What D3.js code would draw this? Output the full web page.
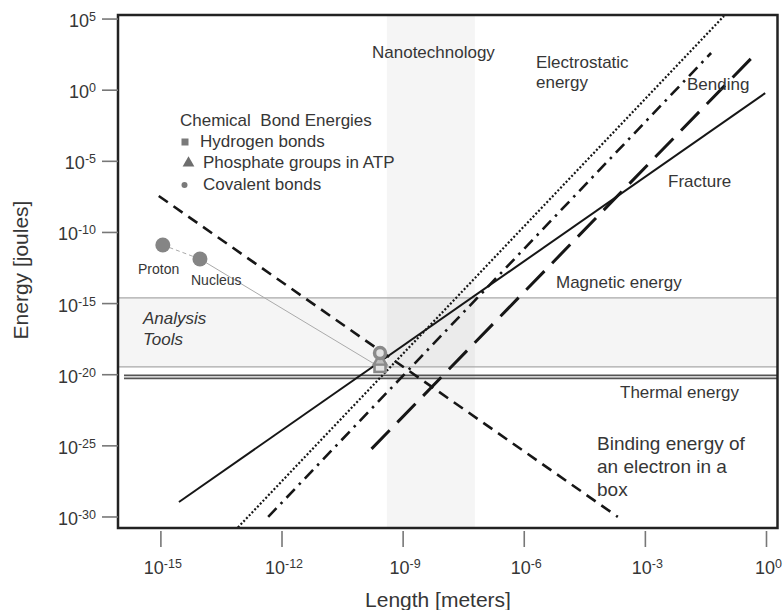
<!DOCTYPE html>
<html>
<head>
<meta charset="utf-8">
<script src="https://cdn.jsdelivr.net/npm/d3@7/dist/d3.min.js"></script>
<style>
  html, body { margin: 0; padding: 0; background: #fff; }
  svg { display: block; font-family: "Liberation Sans", Arial, sans-serif; }
</style>
</head>
<body>
<svg id="chart" width="783" height="610"></svg>
<script>
// ---- data (values given as powers of ten) ----
const lengthTickExp = [-15, -12, -9, -6, -3, 0];
const energyTickExp = [5, 0, -5, -10, -15, -20, -25, -30];

// Binding energy of an electron in a box (E ~ 1/L^2)
const boxLenExp = [-15.04, -3.67];
const boxEnExp  = [-7.47, -30.03];
// Fracture (E ~ L^2)
const fractureLenExp = [-14.54, -0.02];
const fractureEnExp  = [-28.98, -0.24];
// Electrostatic energy (E ~ L^3)
const electroLenExp = [-13.08, -1.04];
const electroEnExp  = [-30.77, 5.18];
// Magnetic energy (E ~ L^3)
const magneticLenExp = [-12.33, -1.36];
const magneticEnExp  = [-30.03, 2.58];
// Bending
const bendingLenExp = [-9.77, -0.23];
const bendingEnExp  = [-25.25, 2.6];

// Thermal energy level and the two shaded ranges
const thermalEnExp = -20.19;
const analysisEnExp = [-19.49, -14.64];
const nanoLenExp = [-9.39, -7.21];

// Particles joined by a guide line down to the chemical bonds
const particleNames  = ["Proton", "Nucleus"];
const particleLenExp = [-14.94, -14.02];
const particleEnExp  = [-10.92, -11.9];
const guideEndExp = [-9.66, -19.35];

// Chemical bond energies
const bondNames  = ["Hydrogen bonds", "Phosphate groups in ATP", "Covalent bonds"];
const bondShapes = ["square", "triangle", "circle"];
const bondLenExp = -9.56;
const bondEnExp  = [-19.56, -19.07, -18.51];

const p10 = e => Math.pow(10, e);
const toPts = (lx, ey) => lx.map((l, i) => ({ L: p10(l), E: p10(ey[i]) }));

// ---- layout ----
const frame = { left: 118, right: 777.5, top: 15, bottom: 528 };
const svg = d3.select("#chart");

const x = d3.scaleLog()
  .domain([p10(-16.05), p10(0.285)])
  .range([frame.left, frame.right]);
const y = d3.scaleLog()
  .domain([p10(-30.81), p10(5.25)])
  .range([frame.bottom, frame.top]);

const textColor = "#363636";
const lineColor = "#161616";

// shaded ranges
svg.append("rect")
  .attr("x", x(p10(nanoLenExp[0])))
  .attr("y", frame.top)
  .attr("width", x(p10(nanoLenExp[1])) - x(p10(nanoLenExp[0])))
  .attr("height", frame.bottom - frame.top)
  .attr("fill", "#000").attr("fill-opacity", 0.04);

svg.append("rect")
  .attr("x", frame.left)
  .attr("y", y(p10(analysisEnExp[1])))
  .attr("width", frame.right - frame.left)
  .attr("height", y(p10(analysisEnExp[0])) - y(p10(analysisEnExp[1])))
  .attr("fill", "#000").attr("fill-opacity", 0.04);

analysisEnExp.forEach(e => {
  svg.append("line")
    .attr("x1", frame.left).attr("x2", frame.right)
    .attr("y1", y(p10(e))).attr("y2", y(p10(e)))
    .attr("stroke", "#a8a8a8").attr("stroke-width", 1.3);
});

// thermal energy: a double rule
const yT = y(p10(thermalEnExp));
[-1.5, 1.5].forEach(off => {
  svg.append("line")
    .attr("x1", frame.left + 6).attr("x2", frame.right)
    .attr("y1", yT + off).attr("y2", yT + off)
    .attr("stroke", "#555").attr("stroke-width", 1.8);
});

// guide line from the particles to the bond markers
const particles = toPts(particleLenExp, particleEnExp);
const guideEnd = { L: p10(guideEndExp[0]), E: p10(guideEndExp[1]) };
const line = d3.line().x(d => x(d.L)).y(d => y(d.E));

svg.append("path")
  .attr("d", line(particles))
  .attr("fill", "none").attr("stroke", "#aaa").attr("stroke-width", 1)
  .attr("stroke-dasharray", "4,3");
svg.append("path")
  .attr("d", line([particles[1], guideEnd]))
  .attr("fill", "none").attr("stroke", "#aaa").attr("stroke-width", 1);

// scaling laws
const series = [
  { pts: toPts(electroLenExp, electroEnExp),   w: 2.2, dash: "2,2" },
  { pts: toPts(magneticLenExp, magneticEnExp), w: 2.6, dash: "12,6,2.5,6" },
  { pts: toPts(bendingLenExp, bendingEnExp),   w: 3,   dash: "26,11" },
  { pts: toPts(fractureLenExp, fractureEnExp), w: 2,   dash: null },
  { pts: toPts(boxLenExp, boxEnExp),           w: 2.6, dash: "11,7" }
];
series.forEach(s => {
  svg.append("path")
    .attr("d", line(s.pts))
    .attr("fill", "none")
    .attr("stroke", lineColor)
    .attr("stroke-width", s.w)
    .attr("stroke-dasharray", s.dash);
});

// particle dots
particles.forEach((d, i) => {
  svg.append("circle")
    .attr("cx", x(d.L)).attr("cy", y(d.E)).attr("r", 7.5)
    .attr("fill", "#858585");
});
svg.append("text").attr("x", 138).attr("y", 274)
  .attr("font-size", 14).attr("fill", textColor).text(particleNames[0]);
svg.append("text").attr("x", 191).attr("y", 285)
  .attr("font-size", 14).attr("fill", textColor).text(particleNames[1]);

// bond markers on the chart
const bx = x(p10(bondLenExp));
const markerStroke = "#8a8a8a";
bondShapes.forEach((shape, i) => {
  const by = y(p10(bondEnExp[i]));
  if (shape === "square") {
    svg.append("rect").attr("x", bx - 5.5).attr("y", by - 4).attr("width", 11).attr("height", 8)
      .attr("fill", "#e6e6e6").attr("stroke", markerStroke).attr("stroke-width", 2.6);
  } else if (shape === "triangle") {
    svg.append("path")
      .attr("d", d3.symbol().type(d3.symbolTriangle).size(70)())
      .attr("transform", `translate(${bx},${by})`)
      .attr("fill", "#bdbdbd").attr("stroke", markerStroke).attr("stroke-width", 2.4);
  } else {
    svg.append("circle").attr("cx", bx).attr("cy", by).attr("r", 5.5)
      .attr("fill", "#e2e2e2").attr("stroke", markerStroke).attr("stroke-width", 3.5);
  }
});

// legend
const legend = svg.append("g").attr("fill", textColor).attr("font-size", 17);
legend.append("text").attr("x", 180).attr("y", 126).attr("xml:space", "preserve")
  .text("Chemical  Bond Energies");
const legendY = [147, 168, 190];
const legendTextX = [200, 203, 203];
bondNames.forEach((name, i) => {
  const cy = legendY[i] - 5;
  if (bondShapes[i] === "square") {
    legend.append("rect").attr("x", 181.5).attr("y", cy - 3.5).attr("width", 7).attr("height", 7)
      .attr("fill", "#7a7a7a");
  } else if (bondShapes[i] === "triangle") {
    legend.append("path")
      .attr("d", d3.symbol().type(d3.symbolTriangle).size(60)())
      .attr("transform", `translate(188.5,${cy})`)
      .attr("fill", "#6e6e6e");
  } else {
    legend.append("circle").attr("cx", 184.5).attr("cy", cy).attr("r", 3)
      .attr("fill", "#7a7a7a");
  }
  legend.append("text").attr("x", legendTextX[i]).attr("y", legendY[i]).text(name);
});

// annotations
const notes = [
  { t: "Nanotechnology", x: 372, y: 58, s: 17 },
  { t: "Electrostatic", x: 536, y: 68, s: 17 },
  { t: "energy", x: 536, y: 88, s: 17 },
  { t: "Bending", x: 687, y: 90, s: 17 },
  { t: "Fracture", x: 668, y: 187, s: 17 },
  { t: "Magnetic energy", x: 556, y: 288, s: 17 },
  { t: "Thermal energy", x: 620, y: 398, s: 17 },
  { t: "Binding energy of", x: 597, y: 450, s: 19 },
  { t: "an electron in a", x: 597, y: 473, s: 19 },
  { t: "box", x: 597, y: 496, s: 19 }
];
notes.forEach(n => {
  svg.append("text").attr("x", n.x).attr("y", n.y)
    .attr("font-size", n.s).attr("fill", textColor).text(n.t);
});
["Analysis", "Tools"].forEach((t, i) => {
  svg.append("text").attr("x", 143).attr("y", 324 + i * 20.5)
    .attr("font-size", 17).attr("font-style", "italic").attr("fill", textColor).text(t);
});

// frame
svg.append("rect")
  .attr("x", frame.left).attr("y", frame.top)
  .attr("width", frame.right - frame.left).attr("height", frame.bottom - frame.top)
  .attr("fill", "none").attr("stroke", "#222").attr("stroke-width", 2.5);

// axes with power-of-ten labels
function powerLabel(sel, anchor, ty, tx) {
  sel.each(function(d) {
    const e = Math.round(Math.log10(d));
    const t = d3.select(this).append("text")
      .attr("text-anchor", anchor).attr("x", tx).attr("y", ty)
      .attr("fill", textColor).attr("font-size", 18);
    t.append("tspan").text("10");
    t.append("tspan").attr("dy", -6).attr("font-size", 12.5).text(String(e));
  });
}

const yAxis = svg.append("g")
  .attr("transform", `translate(${frame.left},0)`)
  .call(d3.axisLeft(y).tickValues(energyTickExp.map(p10)).tickSize(16).tickFormat(""));
yAxis.select(".domain").remove();
yAxis.selectAll(".tick line").attr("stroke", "#777").attr("stroke-width", 1.6);
powerLabel(yAxis.selectAll(".tick"), "end", 8, -22);

const xAxis = svg.append("g")
  .attr("transform", `translate(0,${frame.bottom + 3})`)
  .call(d3.axisBottom(x).tickValues(lengthTickExp.map(p10)).tickSize(16).tickFormat(""));
xAxis.select(".domain").remove();
xAxis.selectAll(".tick line").attr("stroke", "#777").attr("stroke-width", 1.6);
powerLabel(xAxis.selectAll(".tick"), "middle", 43, 2);

// axis titles
svg.append("text")
  .attr("transform", "translate(28,270) rotate(-90)")
  .attr("text-anchor", "middle").attr("font-size", 21).attr("fill", textColor)
  .text("Energy [joules]");
svg.append("text")
  .attr("x", 438).attr("y", 607)
  .attr("text-anchor", "middle").attr("font-size", 21).attr("fill", textColor)
  .text("Length [meters]");
</script>
</body>
</html>
